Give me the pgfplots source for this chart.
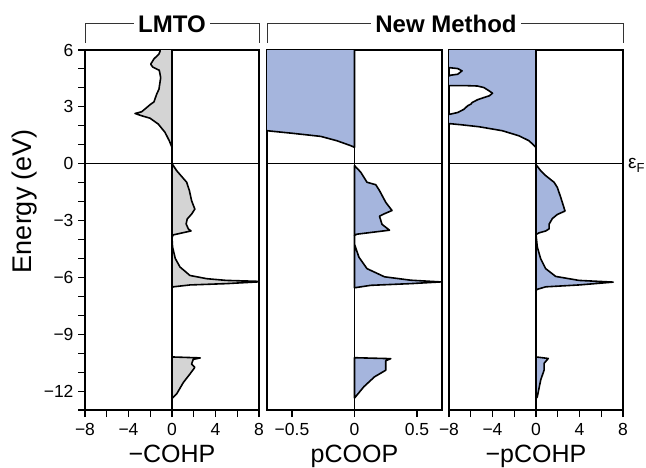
\documentclass[border=0pt]{standalone}
\usepackage{pgfplots}
\pgfplotsset{compat=1.18}
\usepackage{fontspec}
\setmainfont{Liberation Sans}
\definecolor{lgray}{RGB}{212,212,212}
\definecolor{cblue}{RGB}{165,181,221}
\pgfplotsset{
  panel/.style={
    scale only axis, height=360pt, ymin=-13, ymax=6,
    anchor=south west,
    axis line style={line width=1.6pt},
    tick align=outside, xtick pos=bottom, ytick pos=left,
    major tick length=7pt, minor tick length=7pt,
    every tick/.style={line width=1.1pt, black},
    ticklabel style={font=\fontsize{17.5}{19}\selectfont},
    xticklabel style={yshift=-3pt},
    yticklabel style={xshift=-1pt},
    xlabel style={font=\fontsize{25}{27}\selectfont, yshift=-2pt},
    clip=true,
  },
  curve/.style={draw=black, line width=1.6pt, line join=round},
}
\begin{document}
\begin{tikzpicture}
\path[use as bounding box] (0pt,0pt) rectangle (646pt,467pt);
% ---------------- Panel 1: LMTO -COHP
\begin{axis}[panel, at={(85pt,57pt)}, width=174pt, xmin=-8, xmax=8,
  xtick={-8,-4,0,4,8}, xticklabels={−8,−4,0,4,8}, minor xtick={-6,-2,2,6},
  ytick={-12,-9,-6,-3,0,3,6}, yticklabels={−12,−9,−6,−3,0,3,6},
  minor ytick={-13,-11,-10,-8,-7,-5,-4,-2,-1,1,2,4,5},
  xlabel={−COHP}]
\addplot[curve, fill=lgray] coordinates {
 (0,0.86) (-0.25,1.21) (-0.64,1.65) (-1.26,2.09) (-2.02,2.4) (-2.79,2.53) (-3.4,2.65)
 (-2.79,2.74) (-2.33,2.96) (-1.96,3.14) (-1.66,3.26) (-1.41,3.67) (-1.2,3.93)
 (-1.04,4.54) (-1.17,4.93) (-1.77,5.1) (-1.96,5.25) (-1.66,5.53) (-1.2,5.79)
 (-1.1,5.93) (-1.0,6.5) (0,6.5)} --cycle;
\addplot[curve, fill=lgray] coordinates {
 (0,0) (0.43,-0.37) (1.35,-0.98) (1.6,-1.42) (1.8,-1.95) (2.1,-2.4) (1.8,-2.66)
 (1.4,-2.92) (1.3,-3.18) (1.5,-3.44) (1.75,-3.55) (0.1,-3.76) (0,-3.9)} --cycle;
\addplot[curve, fill=lgray] coordinates {
 (0,-3.9) (0.05,-4.4) (0.3,-5.0) (0.73,-5.45) (1.65,-5.9) (3.2,-6.07) (5.0,-6.16)
 (8.5,-6.22) (5.0,-6.33) (1.65,-6.4) (0.1,-6.5) (0,-6.55)} --cycle;
\addplot[curve, fill=lgray] coordinates {
 (0,-10.2) (2.6,-10.25) (1.95,-10.33) (1.8,-10.58) (2.1,-10.75) (1.65,-11.1)
 (1.04,-11.55) (0.43,-12.15) (0.05,-12.36) (0,-12.4)} --cycle;
\addplot[black, line width=0.9pt] coordinates {(-8,0) (8,0)};
\addplot[black, line width=1.5pt] coordinates {(0,-13) (0,6)};
\end{axis}
% ---------------- Panel 2: pCOOP
\begin{axis}[panel, at={(267pt,57pt)}, width=175pt, xmin=-0.7, xmax=0.7,
  xtick={-0.5,0,0.5}, xticklabels={−0.5,0,0.5}, ytick=\empty,
  xlabel={pCOOP}]
\addplot[curve, fill=cblue] coordinates {
 (0,0.86) (-0.03,0.95) (-0.14,1.21) (-0.27,1.44) (-0.49,1.6) (-0.7,1.74)
 (-1.0,1.8) (-1.0,6.5) (0,6.5)} --cycle;
\addplot[curve, fill=cblue] coordinates {
 (0,-0.1) (0.05,-0.45) (0.1,-0.98) (0.17,-1.11) (0.2,-1.42) (0.25,-2.04)
 (0.3,-2.47) (0.24,-2.64) (0.2,-2.77) (0.22,-3.2) (0.28,-3.51) (0.02,-3.72) (0,-3.78)} --cycle;
\addplot[curve, fill=cblue] coordinates {
 (0,-3.78) (0,-4.25) (0.035,-4.93) (0.1,-5.54) (0.24,-5.97) (0.45,-6.15) (0.69,-6.24)
 (0.45,-6.33) (0.13,-6.42) (0,-6.55)} --cycle;
\addplot[curve, fill=cblue] coordinates {
 (0,-10.24) (0.29,-10.29) (0.25,-10.4) (0.25,-10.9) (0.16,-11.25) (0.075,-11.77)
 (0,-12.37)} --cycle;
\addplot[black, line width=0.9pt] coordinates {(-0.7,0) (0.7,0)};
\addplot[black, line width=1.5pt] coordinates {(0,-13) (0,6)};
\end{axis}
% ---------------- Panel 3: -pCOHP
\begin{axis}[panel, at={(449pt,57pt)}, width=174pt, xmin=-8, xmax=8,
  xtick={-8,-4,0,4,8}, xticklabels={−8,−4,0,4,8}, minor xtick={-6,-2,2,6},
  ytick=\empty, xlabel={−pCOHP}]
\addplot[curve, fill=cblue] coordinates {
 (0,0.86) (-0.64,1.21) (-1.56,1.47) (-3.1,1.74) (-5.24,1.95) (-6.8,2.05) (-8.06,2.12)
 (-12,2.2) (-12,2.55) (-8,2.6) (-7.2,2.7) (-6.6,2.88) (-6.3,3.05) (-6.0,3.14)
 (-5.86,3.23) (-5.4,3.37) (-4.8,3.49) (-4.3,3.58) (-4.0,3.72) (-4.3,3.84)
 (-4.8,4.02) (-5.4,4.1) (-6.5,4.12) (-8,4.12) (-12,4.15) (-12,4.6) (-8,4.63)
 (-7.85,4.67) (-7.2,4.72) (-6.8,4.9) (-7.2,5.02) (-8,5.07) (-12,5.1) (-12,6.5) (0,6.5)} --cycle;
\addplot[curve, fill=cblue] coordinates {
 (0,-0.05) (0.43,-0.37) (0.89,-0.63) (1.66,-0.98) (1.96,-1.25) (2.27,-1.77)
 (2.67,-2.5) (1.96,-2.68) (1.5,-2.9) (1.2,-3.2) (1.2,-3.44) (0.9,-3.55)
 (0.28,-3.65) (0,-3.74)} --cycle;
\addplot[curve, fill=cblue] coordinates {
 (0,-3.74) (0.12,-4.4) (0.43,-5.02) (0.89,-5.54) (1.81,-5.95) (3.95,-6.16) (7.1,-6.25)
 (3.95,-6.4) (0.89,-6.5) (0.12,-6.63) (0,-6.68)} --cycle;
\addplot[curve, fill=cblue] coordinates {
 (0,-10.2) (1.13,-10.28) (0.74,-10.54) (0.74,-10.9) (0.43,-11.42) (0.12,-12.3) (0,-12.4)} --cycle;
\addplot[black, line width=0.9pt] coordinates {(-8,0) (8,0)};
\addplot[black, line width=1.5pt] coordinates {(0,-13) (0,6)};
\end{axis}
% ---------------- Titles with brackets
\draw[line width=1pt, black!80] (85pt,424pt) -- (85pt,443pt) -- (259pt,443pt) -- (259pt,424pt);
\draw[line width=1pt, black!80] (267pt,424pt) -- (267pt,443pt) -- (623pt,443pt) -- (623pt,424pt);
\node[fill=white, inner xsep=4pt, inner ysep=1pt, font=\fontsize{24}{26}\selectfont\bfseries] at (172pt,443pt) {LMTO};
\node[fill=white, inner xsep=4pt, inner ysep=1pt, font=\fontsize{24}{26}\selectfont\bfseries] at (446pt,443pt) {New Method};
% ---------------- y label and Fermi label
\node[rotate=90, font=\fontsize{27}{29}\selectfont] at (25pt,266pt) {Energy (eV)};
\node[anchor=west, inner sep=0pt] at (628pt,302pt) {\fontsize{19}{21}\selectfont ε\raisebox{-4pt}{\fontsize{13}{14}\selectfont F}};
\end{tikzpicture}
\end{document}
